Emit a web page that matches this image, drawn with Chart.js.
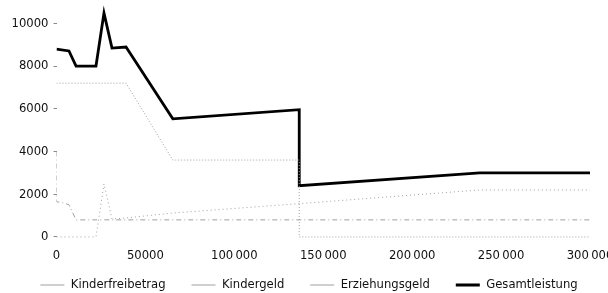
<!DOCTYPE html>
<html>
<head>
<meta charset="utf-8">
<script src="https://cdn.jsdelivr.net/npm/chart.js@4.4.1/dist/chart.umd.min.js"></script>
<style>
html,body{margin:0;padding:0;background:#fff;}
#wrap{width:608px;height:293px;position:relative;}
</style>
</head>
<body>
<div id="wrap"><canvas id="c" width="608" height="293"></canvas></div>
<script>
// ---- data ----
const seriesNames = ['Kinderfreibetrag', 'Kindergeld', 'Erziehungsgeld', 'Gesamtleistung'];

const kinderfreibetragX = [0, 22200, 26700, 31200, 39100, 65400, 136500, 238000, 300000];
const kinderfreibetragY = [0, 0, 2480, 840, 890, 1120, 1560, 2200, 2200];

const kindergeldX = [0, 0, 3500, 7000, 11000, 300000];
const kindergeldY = [4000, 1650, 1600, 1510, 800, 800];

const erziehungsgeldX = [0, 39100, 65400, 136500, 136500, 300000];
const erziehungsgeldY = [7200, 7200, 3600, 3600, 0, 0];

const gesamtX = [0, 7000, 11000, 22200, 26700, 31200, 39100, 65400, 136500, 136500, 238000, 300000];
const gesamtY = [8790, 8710, 8000, 8000, 10480, 8840, 8890, 5530, 5960, 2400, 3000, 3000];

const yTicks = [0, 2000, 4000, 6000, 8000, 10000];
const xTicks = [0, 50000, 100000, 150000, 200000, 250000, 300000];

const pts = (xs, ys) => xs.map((x, i) => ({x: x, y: ys[i]}));

// pick a condensed font if one is installed, and size it so the legend text width matches
const mctx = document.createElement('canvas').getContext('2d');
function has(f) {
  mctx.font = '20px monospace'; const a = mctx.measureText('Kinderfreibetrag 100000').width;
  mctx.font = '20px "' + f + '", monospace'; const b = mctx.measureText('Kinderfreibetrag 100000').width;
  return Math.abs(a - b) > 0.5;
}
let FAM = 'Liberation Sans';
for (const f of ['Liberation Sans Narrow', 'Arial Narrow', 'DejaVu Sans Condensed', 'Liberation Sans']) {
  if (has(f)) { FAM = f; break; }
}
mctx.font = '15px "' + FAM + '"';
const totalW = seriesNames.reduce((s, n) => s + mctx.measureText(n).width, 0);
let FS = 15 * 338 / totalW;
FS = Math.round(FS * 10) / 10;
const FONT = '"' + FAM + '", sans-serif';

const LEG_PAD = 26;
const LEG_CENTER_Y = 285;
const LEG_SHIFT_X = 5;

// place the legend row at the reference height while keeping its layout slot small
const legendPlace = {
  id: 'legendPlace',
  afterLayout(chart) {
    const lg = chart.legend;
    if (!lg) return;
    lg.top = LEG_CENTER_Y - LEG_PAD - FS / 2;
    lg.bottom = chart.height + 60;
    lg.height = lg.bottom - lg.top;
    lg.left += LEG_SHIFT_X;
    lg.right += LEG_SHIFT_X;
  }
};

const ctx = document.getElementById('c').getContext('2d');
new Chart(ctx, {
  type: 'line',
  data: {
    datasets: [
      {label: seriesNames[0], data: pts(kinderfreibetragX, kinderfreibetragY), borderColor: '#a0a0a0', borderWidth: 1, borderDash: [1, 3], pointRadius: 0, pointStyle: 'line', tension: 0, fill: false},
      {label: seriesNames[1], data: pts(kindergeldX, kindergeldY), borderColor: '#a0a0a0', borderWidth: 1, borderDash: [5, 3, 1, 3], pointRadius: 0, pointStyle: 'line', tension: 0, fill: false},
      {label: seriesNames[2], data: pts(erziehungsgeldX, erziehungsgeldY), borderColor: '#a0a0a0', borderWidth: 1, borderDash: [1, 2], pointRadius: 0, pointStyle: 'line', tension: 0, fill: false},
      {label: seriesNames[3], data: pts(gesamtX, gesamtY), borderColor: '#000000', borderWidth: 2.8, pointRadius: 0, pointStyle: 'line', tension: 0, fill: false}
    ]
  },
  plugins: [legendPlace],
  options: {
    responsive: false,
    animation: false,
    devicePixelRatio: 1,
    layout: {padding: {top: 2, right: 0, left: 0, bottom: 0}},
    plugins: {
      tooltip: {enabled: false},
      legend: {
        position: 'bottom',
        maxHeight: 23.5,
        labels: {
          usePointStyle: true,
          pointStyleWidth: 24,
          boxWidth: 24,
          boxHeight: 2,
          padding: LEG_PAD,
          color: '#111',
          font: {family: FONT, size: FS}
        }
      }
    },
    scales: {
      x: {
        type: 'linear',
        min: 0,
        max: 300000,
        afterBuildTicks: s => { s.ticks = xTicks.map(v => ({value: v})); },
        afterFit: s => { s.height = 24; s.paddingLeft = 0; s.paddingRight = 18; },
        grid: {display: false, drawTicks: false},
        border: {display: false},
        ticks: {
          padding: 2,
          color: '#111',
          font: {family: FONT, size: FS},
          maxRotation: 0,
          callback: v => v >= 100000 ? String(v).replace(/(\d{3})$/, '\u2009$1') : String(v)
        }
      },
      y: {
        type: 'linear',
        min: -400,
        max: 11000,
        afterBuildTicks: s => { s.ticks = yTicks.map(v => ({value: v})); },
        afterFit: s => { s.width = 56.5; s.paddingTop = 0; s.paddingBottom = 0; },
        grid: {display: true, drawOnChartArea: false, drawTicks: true, tickLength: 3, color: '#888'},
        border: {display: false},
        ticks: {
          padding: 5,
          color: '#111',
          font: {family: FONT, size: FS},
          callback: v => String(v)
        }
      }
    }
  }
});
</script>
</body>
</html>
